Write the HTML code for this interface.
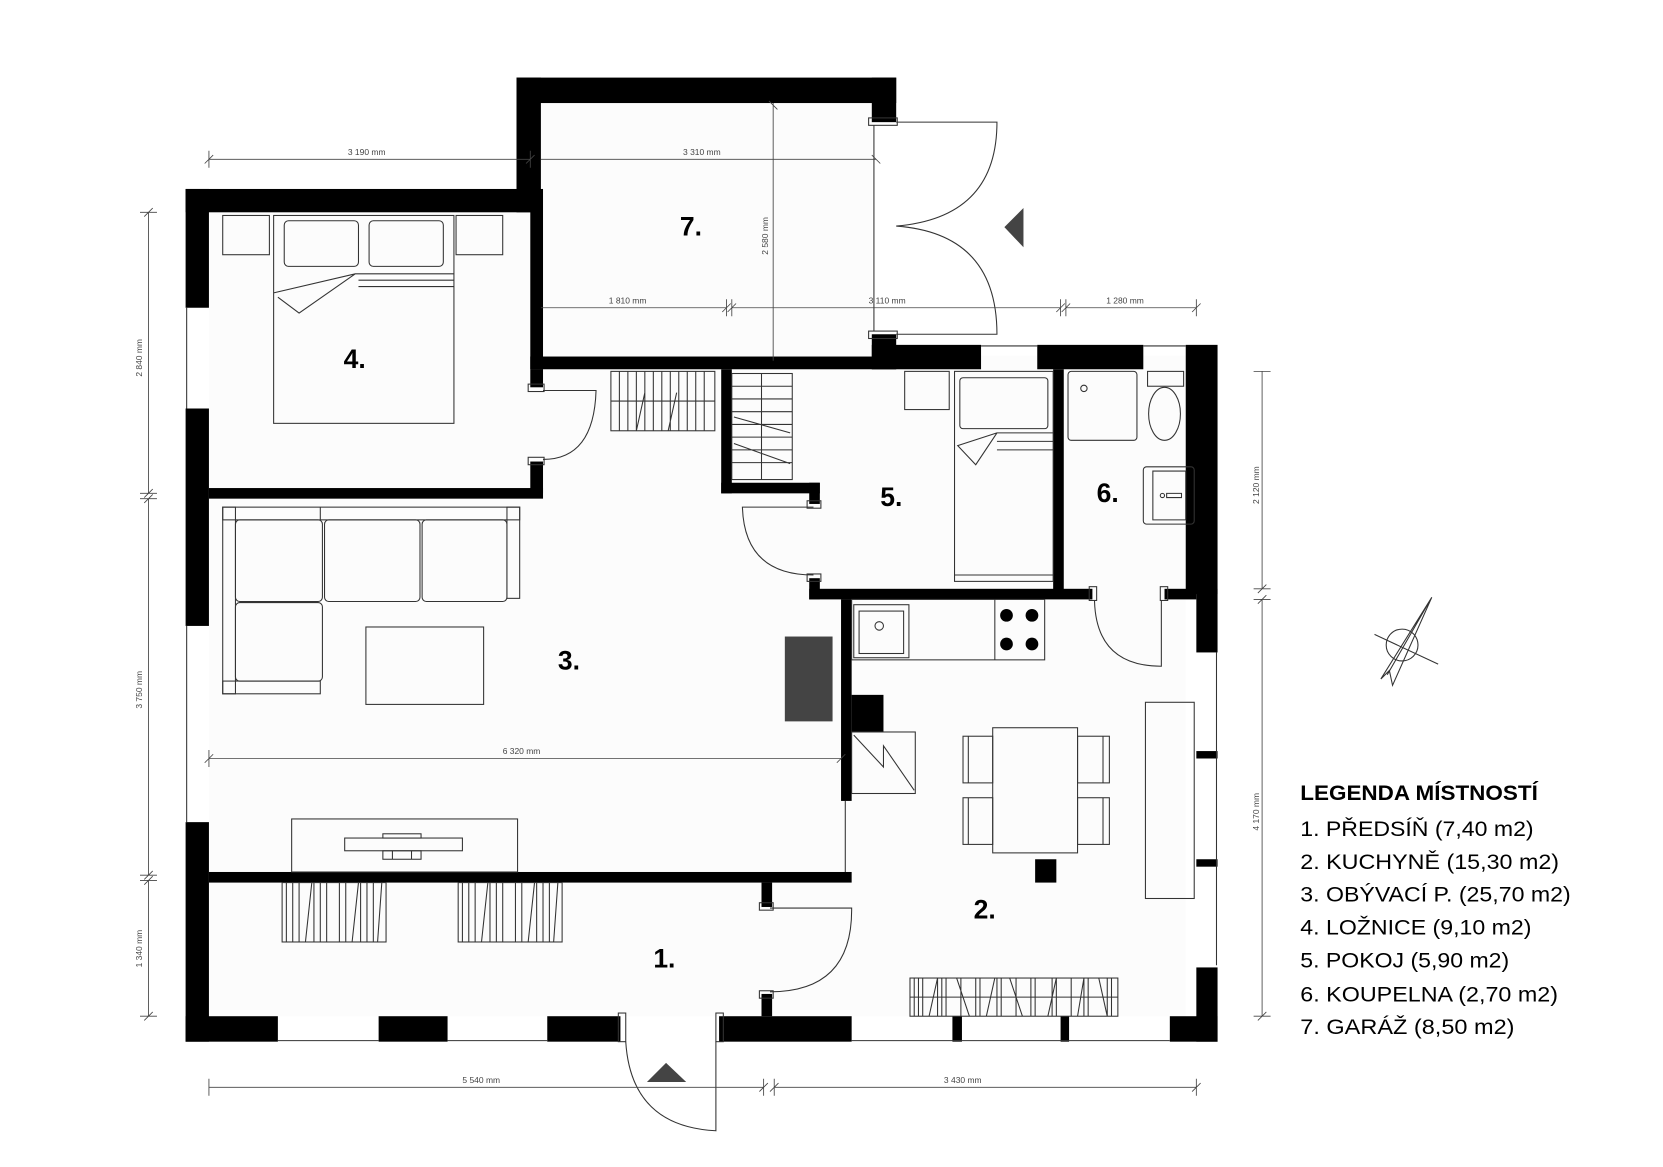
<!DOCTYPE html>
<html><head><meta charset="utf-8"><style>
html,body{margin:0;padding:0;background:#fff}
svg{display:block}
.f{fill:none;stroke:#333;stroke-width:1}
.d{stroke:#444;stroke-width:0.8;fill:none}
.t{font-family:"Liberation Sans",sans-serif;font-size:8px;fill:#444}
.r{font-family:"Liberation Sans",sans-serif;font-size:25px;font-weight:bold;fill:#000}
.l{font-family:"Liberation Sans",sans-serif;font-size:20px;fill:#000}
</style></head><body>
<svg width="1663" height="1167" viewBox="0 0 1568 1100" xmlns="http://www.w3.org/2000/svg">
<rect width="1568" height="1100" fill="#fff"/>
<path d="M197 200H500V97H822V335H1118V958H197Z" fill="#fcfcfc"/>
<g fill="#000">
<rect x="175" y="178" width="335" height="22"/>
<rect x="175" y="178" width="22" height="112"/>
<rect x="175" y="385" width="22" height="205"/>
<rect x="175" y="775" width="22" height="207"/>
<rect x="487" y="73" width="358" height="24"/>
<rect x="487" y="73" width="23" height="127"/>
<rect x="500" y="178" width="12" height="170"/>
<rect x="822" y="73" width="23" height="42"/>
<rect x="822" y="315" width="23" height="33"/>
<rect x="500" y="336" width="345" height="12"/>
<rect x="822" y="325" width="103" height="23"/>
<rect x="978" y="325" width="100" height="23"/>
<rect x="1118" y="325" width="30" height="235"/>
<rect x="1128" y="555" width="20" height="60"/>
<rect x="1128" y="708" width="20" height="7"/>
<rect x="1128" y="810" width="20" height="7"/>
<rect x="1128" y="912" width="20" height="70"/>
<rect x="175" y="958" width="87" height="24"/>
<rect x="357" y="958" width="65" height="24"/>
<rect x="516" y="958" width="69" height="24"/>
<rect x="678" y="958" width="125" height="24"/>
<rect x="898" y="958" width="9" height="24"/>
<rect x="1000" y="958" width="8" height="24"/>
<rect x="1103" y="958" width="45" height="24"/>
<rect x="197" y="460" width="315" height="10"/>
<rect x="500" y="348" width="12" height="17"/>
<rect x="500" y="435" width="12" height="30"/>
<rect x="680" y="348" width="10" height="117"/>
<rect x="680" y="455" width="93" height="10"/>
<rect x="763" y="455" width="10" height="20"/>
<rect x="763" y="545" width="10" height="20"/>
<rect x="763" y="555" width="267" height="10"/>
<rect x="1098" y="555" width="30" height="10"/>
<rect x="993" y="348" width="10" height="212"/>
<rect x="793" y="565" width="10" height="190"/>
<rect x="197" y="822" width="606" height="10"/>
<rect x="718" y="832" width="10" height="23"/>
<rect x="718" y="937" width="10" height="21"/>
<rect x="803" y="655" width="30" height="35"/>
<rect x="976" y="810" width="20" height="22"/>
<circle cx="949" cy="580" r="6"/><circle cx="973" cy="580" r="6"/>
<circle cx="949" cy="607" r="6"/><circle cx="973" cy="607" r="6"/>
</g>
<rect x="740" y="600" width="45" height="80" fill="#444"/>
<g class="f" stroke="#bbb">
<path d="M176 290V385M176 590V775M262 981H357M422 981H516M803 981H1103M1147 615V910M925 326H978M1078 326H1118M797 755V822"/>
</g>
<g class="f">
<rect x="498" y="362" width="15" height="7"/><rect x="498" y="431" width="15" height="7"/>
<path d="M512 368H562Q560 433 512 433"/>
<rect x="761" y="472" width="13" height="7"/><rect x="761" y="541" width="13" height="7"/>
<path d="M767 478H700Q702 542 767 542"/>
<rect x="1027" y="553" width="7" height="13"/><rect x="1094" y="553" width="7" height="13"/>
<path d="M1032 566V567Q1034 628 1095 628V566"/>
<rect x="716" y="851" width="13" height="7"/><rect x="716" y="934" width="13" height="7"/>
<path d="M726 856H803V858Q803 935 726 935"/>
<rect x="583" y="955" width="7" height="27"/><rect x="675" y="955" width="7" height="27"/>
<path d="M590 982Q595 1062 675 1066V982"/>
<rect x="819" y="111" width="27" height="7"/><rect x="819" y="312" width="27" height="7"/>
<path d="M845 115H940Q940 205 845 213M845 315H940Q940 220 845 213M824 118V312"/>
</g>
<polygon points="947,214 965,196 965,233" fill="#444"/>
<polygon points="610,1020 628,1002 647,1020" fill="#444"/>
<g class="f">
<rect x="210" y="203" width="44" height="37"/><rect x="430" y="203" width="44" height="37"/>
<rect x="258" y="203" width="170" height="196"/>
<rect x="268" y="208" width="70" height="43" rx="4"/><rect x="348" y="208" width="70" height="43" rx="4"/>
<path d="M258 276L335 258H428M335 258L282 295L262 280M338 264H428M338 270H428"/>
<rect x="576" y="350" width="98" height="56"/>
<path d="M576 378H674M584 350V406M592 350V406M600 350V406M608 350V406M616 350V406M624 350V406M632 350V406M640 350V406M648 350V406M656 350V406M664 350V406M600 406L608 370M630 406L638 370"/>
<rect x="690" y="352" width="57" height="100"/>
<path d="M690 364H747M690 376H747M690 388H747M690 400H747M690 412H747M690 424H747M690 436H747M718 352V452M692 393L745 408M692 418L745 437"/>
<rect x="853" y="350" width="42" height="36"/>
<rect x="900" y="350" width="93" height="198"/>
<rect x="905" y="356" width="83" height="48" rx="3"/>
<path d="M940 408L903 420L920 438L940 408H993M940 416H993M940 424H993M900 542H993"/>
<rect x="1007" y="350" width="65" height="65" rx="3"/>
<circle cx="1022" cy="366" r="3"/>
<rect x="1082" y="350" width="34" height="14"/>
<ellipse cx="1098" cy="390" rx="15" ry="25"/>
<rect x="1078" y="440" width="48" height="54" rx="3"/>
<path d="M1087 444H1118V490H1087Z"/><circle cx="1096" cy="467" r="2"/><path d="M1100 465H1114V469H1100Z"/>
<rect x="803" y="565" width="182" height="57"/>
<rect x="805" y="570" width="52" height="50"/><rect x="810" y="576" width="42" height="40"/>
<circle cx="829" cy="590" r="4"/>
<path d="M938 565V622"/>
<rect x="803" y="690" width="60" height="58"/>
<path d="M805 693L833 723V703L862 745"/>
<rect x="936" y="686" width="80" height="118"/>
<rect x="908" y="694" width="28" height="44"/><rect x="908" y="752" width="28" height="44"/>
<rect x="1016" y="694" width="30" height="44"/><rect x="1016" y="752" width="30" height="44"/>
<path d="M913 694V738M913 752V796M1040 694V738M1040 752V796"/>
<rect x="1080" y="662" width="46" height="185"/>
<rect x="858" y="922" width="196" height="36"/>
<path d="M858 940H1054M862 922V958M866 922V958M870 922V958M884 922V958M888 922V958M892 922V958M906 922V958M920 922V958M924 922V958M940 922V958M944 922V958M958 922V958M972 922V958M976 922V958M992 922V958M996 922V958M1010 922V958M1022 922V958M1026 922V958M1044 922V958M1048 922V958M876 958L884 922M902 922L914 958M930 958L938 922M952 922L964 958M988 958L996 922M1016 958L1022 922M1036 922L1044 958"/>
<rect x="210" y="478" width="280" height="12"/><path d="M302 478V490"/>
<rect x="210" y="478" width="12" height="176"/><rect x="478" y="478" width="12" height="86"/>
<rect x="210" y="642" width="92" height="12"/>
<rect x="222" y="490" width="82" height="77" rx="4"/><rect x="306" y="490" width="90" height="77" rx="4"/><rect x="398" y="490" width="80" height="77" rx="4"/>
<rect x="222" y="568" width="82" height="74" rx="4"/>
<rect x="345" y="591" width="111" height="73"/>
<rect x="275" y="772" width="213" height="50"/>
<rect x="325" y="790" width="111" height="12"/>
<rect x="361" y="786" width="36" height="4"/><rect x="361" y="802" width="36" height="8"/><path d="M370 802V810M388 802V810"/>
<rect x="266" y="832" width="98" height="56"/><rect x="432" y="832" width="98" height="56"/>
<path d="M270 832V888M276 832V888M282 832V888M296 832V888M302 832V888M308 832V888M320 832V888M326 832V888M340 832V888M346 832V888M352 832V888M288 888L294 832M332 888L338 832M356 888L360 832M436 832V888M442 832V888M448 832V888M462 832V888M468 832V888M474 832V888M486 832V888M492 832V888M506 832V888M512 832V888M518 832V888M454 888L460 832M498 888L504 832M522 888L526 832"/>
</g>
<g class="d">
<path d="M197 150H500M197 142V158M193 154L201 146M500 142V158M496 154L504 146"/>
<path d="M510 150H826M822 146L830 154"/>
<path d="M197 715H793M197 707V723M193 719L201 711M789 719L797 711"/>
<path d="M510 290H685M690 290H1000M1005 290H1128M685 282V298M690 282V298M1000 282V298M1005 282V298M1128 282V298M681 294L689 286M686 294L694 286M996 294L1004 286M1001 294L1009 286M1124 294L1132 286"/>
<path d="M729 97V340M725 95L733 103"/>
<path d="M140 200V465M140 470V825M140 830V958M132 200H148M132 465H148M132 470H148M132 825H148M132 830H148M132 958H148M136 204L144 196M136 469L144 461M136 474L144 466M136 829L144 821M136 834L144 826M136 962L144 954"/>
<path d="M1190 350V555M1190 565V958M1182 350H1198M1182 555H1198M1182 565H1198M1182 958H1198M1186 559L1194 551M1186 569L1194 561M1186 962L1194 954"/>
<path d="M197 1025H720M730 1025H1128M197 1017V1033M720 1017V1033M730 1017V1033M1128 1017V1033M716 1029L724 1021M726 1029L734 1021M1124 1029L1132 1021"/>
</g>
<g class="t">
<text x="328" y="146">3 190 mm</text>
<text x="644" y="146">3 310 mm</text>
<text x="474" y="711">6 320 mm</text>
<text x="574" y="286">1 810 mm</text>
<text x="819" y="286">3 110 mm</text>
<text x="1043" y="286">1 280 mm</text>
<text x="436" y="1021">5 540 mm</text>
<text x="890" y="1021">3 430 mm</text>
<text transform="translate(724 240) rotate(-90)">2 580 mm</text>
<text transform="translate(134 355) rotate(-90)">2 840 mm</text>
<text transform="translate(134 668) rotate(-90)">3 750 mm</text>
<text transform="translate(134 912) rotate(-90)">1 340 mm</text>
<text transform="translate(1187 475) rotate(-90)">2 120 mm</text>
<text transform="translate(1187 783) rotate(-90)">4 170 mm</text>
</g>
<g class="f">
<circle cx="1322" cy="608" r="15"/>
<path d="M1296 598L1356 626M1350 563L1302 640L1310 632L1313 646L1350 563M1350 563L1308 636"/>
</g>
<g class="r">
<text x="324" y="347">4.</text>
<text x="641" y="222">7.</text>
<text x="830" y="477">5.</text>
<text x="1034" y="473">6.</text>
<text x="526" y="631">3.</text>
<text x="918" y="866">2.</text>
<text x="616" y="912">1.</text>
</g>
<text x="1226" y="754" class="l" font-weight="bold" textLength="224" lengthAdjust="spacingAndGlyphs">LEGENDA MÍSTNOSTÍ</text>
<g class="l">
<text x="1226" y="788" textLength="220" lengthAdjust="spacingAndGlyphs">1. PŘEDSÍŇ (7,40 m2)</text>
<text x="1226" y="819" textLength="244" lengthAdjust="spacingAndGlyphs">2. KUCHYNĚ (15,30 m2)</text>
<text x="1226" y="850" textLength="255" lengthAdjust="spacingAndGlyphs">3. OBÝVACÍ P. (25,70 m2)</text>
<text x="1226" y="881" textLength="218" lengthAdjust="spacingAndGlyphs">4. LOŽNICE (9,10 m2)</text>
<text x="1226" y="912" textLength="197" lengthAdjust="spacingAndGlyphs">5. POKOJ (5,90 m2)</text>
<text x="1226" y="944" textLength="243" lengthAdjust="spacingAndGlyphs">6. KOUPELNA (2,70 m2)</text>
<text x="1226" y="975" textLength="202" lengthAdjust="spacingAndGlyphs">7. GARÁŽ (8,50 m2)</text>
</g>
</svg>
</body></html>
